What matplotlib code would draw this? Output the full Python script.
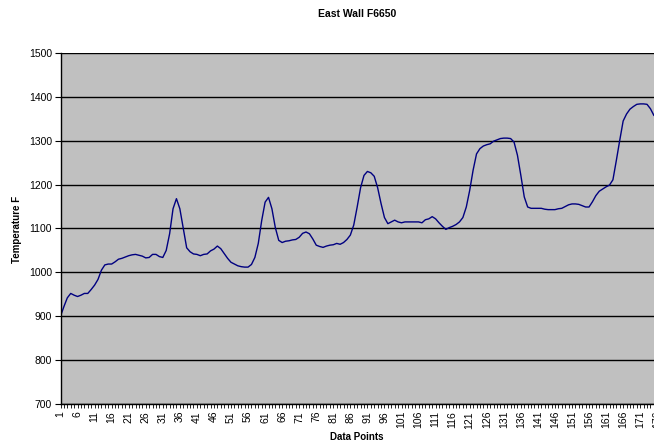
import matplotlib
matplotlib.use('Agg')
import matplotlib.pyplot as plt
import numpy as np

plt.rcParams['font.family'] = ['Liberation Sans', 'DejaVu Sans']

temps = [
    900, 922, 942, 952, 948, 945, 948, 952, 952, 961,
    971, 984, 1005, 1017, 1019, 1019, 1024, 1030, 1032, 1035,
    1038, 1040, 1041, 1039, 1037, 1033, 1034, 1041, 1041, 1036,
    1034, 1050, 1088, 1145, 1168, 1145, 1100, 1056, 1047, 1042,
    1041, 1038, 1041, 1042, 1049, 1053, 1060, 1054, 1043, 1032,
    1023, 1019, 1015, 1013, 1012, 1012, 1018, 1034, 1066, 1118,
    1160, 1171, 1145, 1102, 1073, 1068, 1071, 1072, 1074, 1075,
    1080, 1089, 1092, 1088, 1076, 1062, 1059, 1057, 1060, 1062,
    1063, 1066, 1064, 1068, 1075, 1085, 1108, 1149, 1193, 1221,
    1230, 1227, 1219, 1193, 1157, 1125, 1111, 1115, 1119, 1115,
    1113, 1115, 1115, 1115, 1115, 1115, 1113, 1120, 1122, 1127,
    1122, 1113, 1105, 1098, 1102, 1105, 1109, 1115, 1125, 1149,
    1187, 1233, 1270, 1282, 1288, 1291, 1293, 1299, 1302, 1305,
    1306, 1306, 1305, 1297, 1267, 1221, 1172, 1149, 1146, 1146,
    1146, 1146, 1144, 1143, 1143, 1143, 1145, 1146, 1150, 1154,
    1156, 1156, 1155, 1152, 1149, 1149, 1161, 1175, 1185, 1190,
    1195, 1199, 1211, 1255, 1301, 1345, 1361, 1372, 1378, 1383,
    1384, 1384, 1383, 1373, 1358,
]
points = np.arange(1, len(temps) + 1)
tick_labels = list(range(1, 181, 5))

W, H = 654, 443
fig = plt.figure(figsize=(W / 100, H / 100), dpi=100)
# plot area runs past the right edge of the picture, like the cropped original
step = 3.41
ax = fig.add_axes([60.5 / W, 39 / H, 179 * step / W, 351 / H])
ax.set_facecolor('#C0C0C0')

ax.plot(points, temps, color='#000080', linewidth=1.0)

ax.set_xlim(1, 180)
ax.set_ylim(700, 1500)
ax.set_yticks(range(700, 1501, 100))
ax.set_xticks(tick_labels)
ax.set_xticklabels([str(t) for t in tick_labels], rotation=90, fontsize=7.5)
ax.set_xticks(points, minor=True)
ax.tick_params(axis='y', labelsize=7.5, length=4, width=0.8, pad=2)
ax.tick_params(axis='x', which='both', length=3, width=0.6, pad=2, direction='out')

ax.yaxis.grid(True, color='black', linewidth=1.0)
ax.set_axisbelow(True)
for side in ['top', 'right']:
    ax.spines[side].set_visible(False)
for side in ['left', 'bottom']:
    ax.spines[side].set_color('black')
    ax.spines[side].set_linewidth(1.0)

fig.text(357 / W, 1 - 14 / H, 'East Wall F6650', ha='center', va='center',
         fontsize=7.5, fontweight='bold')
fig.text(17 / W, 1 - 229 / H, 'Temperature F', ha='center', va='center',
         rotation=90, fontsize=7, fontweight='bold')
fig.text(357 / W, 1 - 437 / H, 'Data Points', ha='center', va='center',
         fontsize=7, fontweight='bold')

plt.savefig('out.png', dpi=100)
